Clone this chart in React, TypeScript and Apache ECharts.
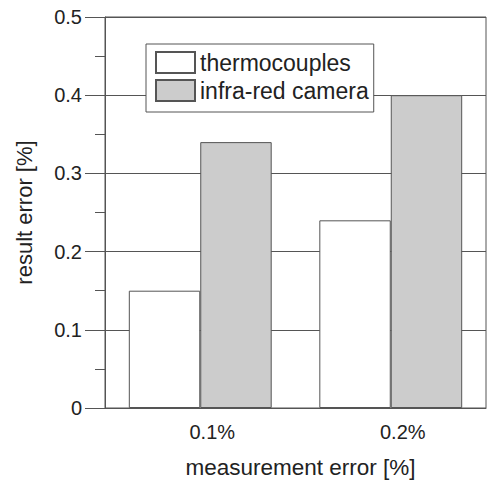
import React, { useEffect, useRef } from "react";
import * as echarts from "echarts";

const categories = ["0.1%", "0.2%"];
const thermocouples = [0.15, 0.24];
const infraRed = [0.34, 0.4];
const seriesNames = ["thermocouples", "infra-red camera"];
const xAxisName = "measurement error [%]";
const yAxisName = "result error [%]";

export default function App() {
  const ref = useRef<HTMLDivElement>(null);
  useEffect(() => {
    if (!ref.current) return;
    const chart = echarts.init(ref.current, null, { renderer: "svg" });
    const font = "'Liberation Sans', Arial, Helvetica, sans-serif";
    const lineColor = "#555";
    chart.setOption({
      animation: false,
      backgroundColor: "#fff",
      textStyle: { fontFamily: font },
      grid: {
        left: 105,
        right: 2,
        top: 17,
        bottom: 75,
        show: true,
        borderColor: lineColor,
        borderWidth: 1,
        backgroundColor: "transparent",
      },
      legend: {
        orient: "vertical",
        left: 146,
        top: 44,
        backgroundColor: "#fff",
        borderColor: lineColor,
        borderWidth: 1,
        padding: [7, 5, 10, 9],
        itemWidth: 39,
        itemHeight: 21,
        itemGap: 5,
        icon: "rect",
        textStyle: { fontSize: 23, color: "#222", fontFamily: font, lineHeight: 21 },
        data: seriesNames,
      },
      xAxis: {
        type: "category",
        data: categories,
        axisLine: { lineStyle: { color: lineColor, width: 1 } },
        axisTick: { show: false },
        axisLabel: {
          fontSize: 20,
          color: "#222",
          margin: 14,
          fontFamily: font,
          padding: [0, 0, 0, 24],
        },
        name: xAxisName,
        nameLocation: "middle",
        nameGap: 48,
        nameTextStyle: { fontSize: 22.5, color: "#222", fontFamily: font, padding: [0, 0, 0, 10] },
      },
      yAxis: {
        type: "value",
        min: 0,
        max: 0.5,
        interval: 0.1,
        axisLine: { show: true, lineStyle: { color: lineColor, width: 1 } },
        axisTick: { show: true, inside: false, length: 20, lineStyle: { color: lineColor } },
        minorTick: { show: true, splitNumber: 2, length: 10, lineStyle: { color: lineColor } },
        splitLine: { show: true, lineStyle: { color: lineColor, width: 1 } },
        axisLabel: {
          fontSize: 20,
          color: "#222",
          margin: 23,
          fontFamily: font,
          formatter: (v: number) => (v === 0 ? "0" : v.toFixed(1)),
        },
        name: yAxisName,
        nameLocation: "middle",
        nameGap: 70,
        nameTextStyle: { fontSize: 22, color: "#222", fontFamily: font },
      },
      series: [
        {
          name: seriesNames[0],
          type: "bar",
          data: thermocouples,
          barGap: "0%",
          barCategoryGap: "25%",
          itemStyle: { color: "#ffffff", borderColor: lineColor, borderWidth: 1 },
        },
        {
          name: seriesNames[1],
          type: "bar",
          data: infraRed,
          barGap: "0%",
          barCategoryGap: "25%",
          itemStyle: { color: "#cccccc", borderColor: lineColor, borderWidth: 1 },
        },
      ],
    });
    return () => chart.dispose();
  }, []);
  return (
    <div
      ref={ref}
      style={{ position: "fixed", left: 0, top: 0, width: 488, height: 484 }}
    />
  );
}
